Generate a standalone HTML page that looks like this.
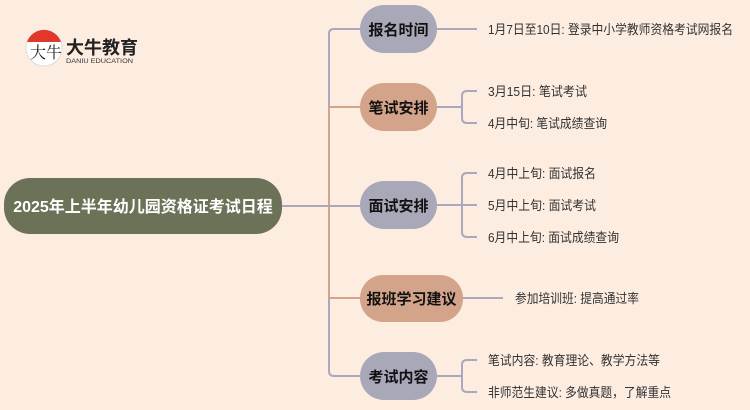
<!DOCTYPE html>
<html><head><meta charset="utf-8"><style>
html,body{margin:0;padding:0;background:#fdece0;}
svg{display:block;font-family:"Liberation Sans","Noto Sans CJK SC",sans-serif;}
</style></head><body>
<svg width="750" height="410" viewBox="0 0 750 410" xmlns="http://www.w3.org/2000/svg">
<rect width="750" height="410" fill="#fdece0"/>
<!-- logo -->
<circle cx="44" cy="48" r="18" fill="#fff" stroke="#ddd"/>
<path d="M27 42 A18 18 0 0 1 61 42 Z" fill="#e0392b"/>
<text x="30" y="58" font-size="16" fill="#222" font-family="'Noto Serif CJK SC',serif">大牛</text>
<text x="66" y="54" font-size="18" font-weight="bold" fill="#222">大牛教育</text>
<text x="66" y="63" font-size="6.5" fill="#333" textLength="67" lengthAdjust="spacingAndGlyphs">DANIU EDUCATION</text>
<!-- trunk lines -->
<g fill="none" stroke-width="2">
<path d="M282 206 H329" stroke="#a9a8bc"/>
<path d="M360 29 H334 Q329 29 329 34 V371 Q329 376 334 376 H360" stroke="#a9a8bc"/>
<path d="M329 107 H360" stroke="#d4a48a"/>
<path d="M329 107 V298 M329 298 H360" stroke="#d4a48a"/>
<path d="M329 206 H360" stroke="#a9a8bc"/>
<!-- leaf connectors -->
<path d="M437 29 H477" stroke="#a9a8bc"/>
<path d="M437 107 H462 M477 91 H467 Q462 91 462 96 V118 Q462 123 467 123 H477" stroke="#a9a8bc"/>
<path d="M437 205 H477 M477 173 H467 Q462 173 462 178 V232 Q462 237 467 237 H477" stroke="#a9a8bc"/>
<path d="M463 298 H503" stroke="#a9a8bc"/>
<path d="M437 376 H462 M477 360 H467 Q462 360 462 365 V387 Q462 392 467 392 H477" stroke="#a9a8bc"/>
</g>
<!-- root -->
<rect x="4" y="178" width="278" height="56" rx="26" fill="#6b7257"/>
<text x="143" y="212" font-size="16" font-weight="bold" fill="#fff" text-anchor="middle">2025年上半年幼儿园资格证考试日程</text>
<!-- nodes -->
<g font-size="15" font-weight="bold" fill="#111" text-anchor="middle">
<rect x="360" y="5" width="77" height="48" rx="24" fill="#a9a8b8"/><text x="398.5" y="35">报名时间</text>
<rect x="360" y="83" width="77" height="48" rx="24" fill="#d4a48a"/><text x="398.5" y="113">笔试安排</text>
<rect x="360" y="181" width="77" height="48" rx="24" fill="#a9a8b8"/><text x="398.5" y="211">面试安排</text>
<rect x="360" y="275" width="103" height="47" rx="23" fill="#d4a48a"/><text x="411.5" y="304">报班学习建议</text>
<rect x="360" y="352" width="77" height="48" rx="24" fill="#a9a8b8"/><text x="398.5" y="382">考试内容</text>
</g>
<!-- leaves -->
<g font-size="13" fill="#333">
<text x="488" y="34" textLength="245" lengthAdjust="spacingAndGlyphs">1月7日至10日: 登录中小学教师资格考试网报名</text>
<text x="488" y="96" textLength="99" lengthAdjust="spacingAndGlyphs">3月15日: 笔试考试</text>
<text x="488" y="128" textLength="119" lengthAdjust="spacingAndGlyphs">4月中旬: 笔试成绩查询</text>
<text x="488" y="178" textLength="108" lengthAdjust="spacingAndGlyphs">4月中上旬: 面试报名</text>
<text x="488" y="210" textLength="108" lengthAdjust="spacingAndGlyphs">5月中上旬: 面试考试</text>
<text x="488" y="242" textLength="131" lengthAdjust="spacingAndGlyphs">6月中上旬: 面试成绩查询</text>
<text x="515" y="303" textLength="124" lengthAdjust="spacingAndGlyphs">参加培训班: 提高通过率</text>
<text x="488" y="365" textLength="172" lengthAdjust="spacingAndGlyphs">笔试内容: 教育理论、教学方法等</text>
<text x="488" y="397" textLength="183" lengthAdjust="spacingAndGlyphs">非师范生建议: 多做真题，了解重点</text>
</g>
</svg>
</body></html>
